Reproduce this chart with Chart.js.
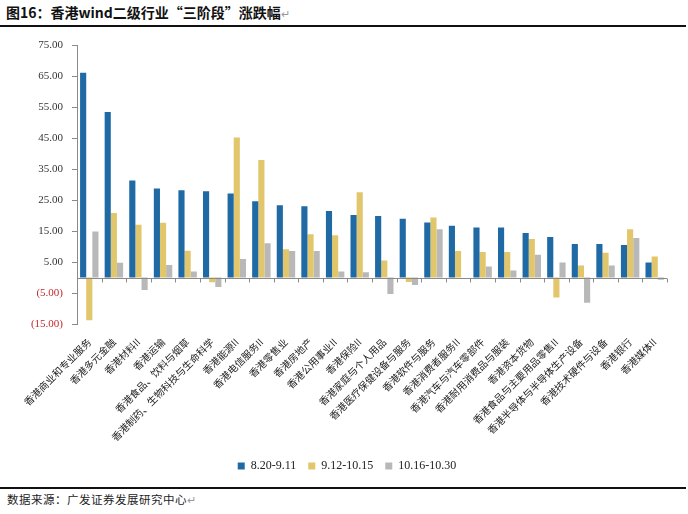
<!DOCTYPE html>
<html lang="zh-CN">
<head>
    <meta charset="UTF-8">
    <title>香港wind二级行业“三阶段”涨跌幅</title>
    <script src="https://cdn.jsdelivr.net/npm/chart.js"></script>
    <style>
        body { margin: 0; width: 688px; height: 514px; background: #fff; position: relative; overflow: hidden; }
        #title { position: absolute; left: 6px; top: 2px; font: bold 14px "Noto Sans CJK SC", sans-serif; color: #111; }
        .ret { color: #999; font-weight: normal; font-size: 11px; }
        .rule { position: absolute; left: 0; width: 686px; height: 2px; background: #111; }
        #source { position: absolute; left: 7px; top: 491px; font: 11.5px "Noto Sans CJK SC", sans-serif; color: #222; letter-spacing: 0.5px; }
        #wrap { position: absolute; left: 0; top: 30px; width: 688px; height: 452px; }
    </style>
</head>
<body>
    <div id="title">图16：香港wind二级行业“三阶段”涨跌幅<span class="ret">↵</span></div>
    <div class="rule" style="top:25px"></div>
    <div id="wrap"><canvas id="industryChart"></canvas></div>
    <div class="rule" style="top:487px"></div>
    <div id="source">数据来源：广发证券发展研究中心<span class="ret">↵</span></div>

    <script>
        // 行业名称
        const industries = [
            '香港商业和专业服务', '香港多元金融', '香港材料II', '香港运输',
            '香港食品、饮料与烟草', '香港制药、生物科技与生命科学', '香港能源II', '香港电信服务II',
            '香港零售业', '香港房地产', '香港公用事业II', '香港保险II',
            '香港家庭与个人用品', '香港医疗保健设备与服务', '香港软件与服务', '香港消费者服务II',
            '香港汽车与汽车零部件', '香港耐用消费品与服装', '香港资本货物', '香港食品与主要用品零售II',
            '香港半导体与半导体生产设备', '香港技术硬件与设备', '香港银行', '香港媒体II'
        ];

        // 三个阶段涨跌幅 (%)
        const stage1 = [66.2, 53.5, 31.4, 28.8, 28.2, 27.9, 27.2, 24.7, 23.4, 23.1, 21.5, 20.2,
                        19.9, 19.0, 17.8, 16.8, 16.2, 16.2, 14.4, 13.1, 10.9, 10.9, 10.5, 4.9];
        const stage2 = [-13.8, 20.9, 17.1, 17.7, 8.7, -1.5, 45.3, 38.0, 9.2, 14.0, 13.7, 27.6,
                        5.5, -1.4, 19.4, 8.6, 8.3, 8.3, 12.5, -6.4, 3.9, 8.0, 15.6, 6.8];
        const stage3 = [14.9, 4.8, -4.0, 4.1, 2.0, -3.0, 6.0, 11.1, 8.6, 8.6, 2.0, 1.7,
                        -5.3, -2.4, 15.6, 0, 3.6, 2.3, 7.4, 4.9, -8.1, 3.9, 12.8, -0.7];

        const stageLabels = ['8.20-9.11', '9.12-10.15', '10.16-10.30'];
        const yTickValues = [-15, -5, 5, 15, 25, 35, 45, 55, 65, 75];

        // 零轴及分类刻度
        const zeroAxis = {
            id: 'zeroAxis',
            afterDatasetsDraw(chart) {
                const { ctx, chartArea, scales } = chart;
                const y0 = Math.round(scales.y.getPixelForValue(0)) + 0.5;
                const step = (chartArea.right - chartArea.left) / industries.length;
                ctx.save();
                ctx.strokeStyle = '#8a8a8a';
                ctx.lineWidth = 1;
                ctx.beginPath();
                ctx.moveTo(chartArea.left, y0);
                ctx.lineTo(chartArea.right, y0);
                for (let i = 1; i <= industries.length; i++) {
                    const x = Math.round(chartArea.left + i * step) + 0.5;
                    ctx.moveTo(x, y0);
                    ctx.lineTo(x, y0 + 4);
                }
                ctx.stroke();
                ctx.restore();
            }
        };

        const ctx = document.getElementById('industryChart').getContext('2d');
        new Chart(ctx, {
            type: 'bar',
            data: {
                labels: industries,
                datasets: [
                    { label: stageLabels[0], data: stage1, backgroundColor: '#1F6AA5' },
                    { label: stageLabels[1], data: stage2, backgroundColor: '#E2C66B' },
                    { label: stageLabels[2], data: stage3, backgroundColor: '#B8B8B8' }
                ]
            },
            plugins: [zeroAxis],
            options: {
                responsive: true,
                maintainAspectRatio: false,
                animation: false,
                layout: { padding: { top: 11, right: 21, left: 27, bottom: 0 } },
                datasets: { bar: { categoryPercentage: 0.75, barPercentage: 1.0 } },
                plugins: {
                    legend: {
                        position: 'bottom',
                        labels: {
                            boxWidth: 7,
                            boxHeight: 7,
                            padding: 12,
                            color: '#222',
                            font: { family: 'Liberation Serif', size: 12 }
                        }
                    },
                    tooltip: { enabled: false }
                },
                scales: {
                    x: {
                        grid: { display: false },
                        border: { display: false },
                        ticks: {
                            autoSkip: false,
                            minRotation: 45,
                            maxRotation: 45,
                            padding: 4,
                            color: '#222',
                            font: { family: 'Noto Sans CJK SC', size: 10 }
                        },
                        afterFit(scale) { scale.height = 124; }
                    },
                    y: {
                        min: -15,
                        max: 75,
                        afterBuildTicks(scale) {
                            scale.ticks = yTickValues.map(v => ({ value: v }));
                        },
                        afterFit(scale) { scale.width = 50; },
                        grid: { display: true, drawOnChartArea: false, drawTicks: true, tickLength: 5, color: '#8a8a8a' },
                        border: { display: true, color: '#8a8a8a' },
                        ticks: {
                            padding: 9,
                            font: { family: 'Liberation Serif', size: 11 },
                            color: c => c.tick.value < 0 ? '#C0282D' : '#333',
                            callback: v => v < 0 ? '(' + Math.abs(v).toFixed(2) + ')' : v.toFixed(2)
                        }
                    }
                }
            }
        });
    </script>
</body>
</html>
